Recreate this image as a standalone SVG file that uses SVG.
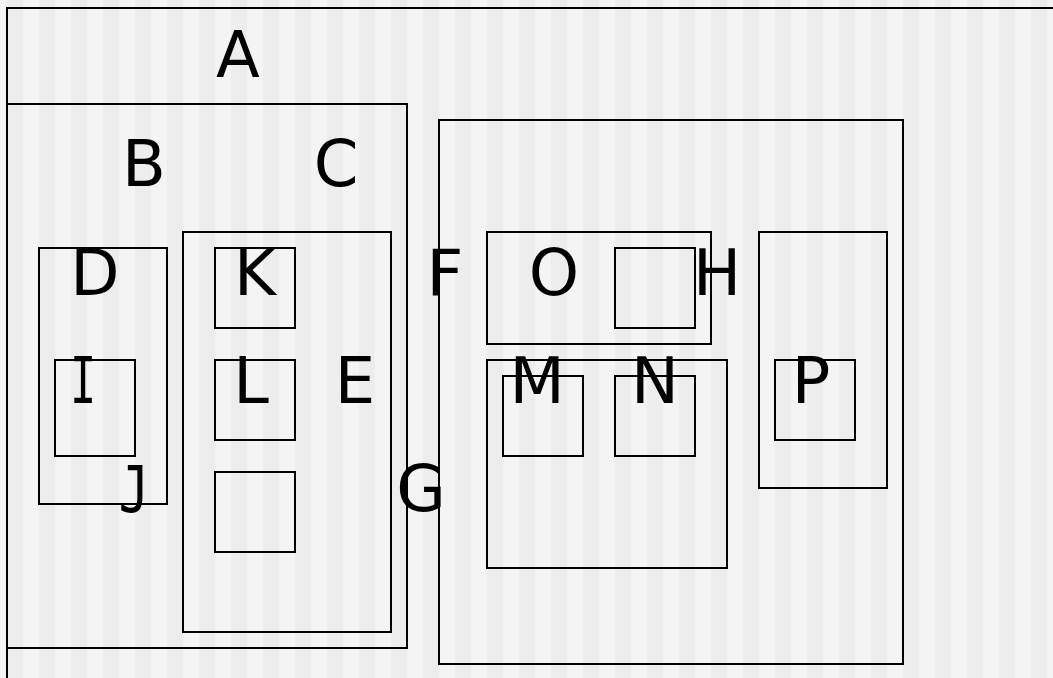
<svg xmlns="http://www.w3.org/2000/svg" width="1053" height="678" viewBox="0 0 1053 678">
<style>
.box{fill:none;stroke:#000;stroke-width:2}
.lbl{font-family:"DejaVu Sans",sans-serif;font-size:64px;fill:#000;text-anchor:middle}
.mono{font-family:"DejaVu Sans Mono",monospace}
</style>
<defs>
<pattern id="stripes" x="7" y="0" width="32" height="678" patternUnits="userSpaceOnUse">
<rect x="0" y="0" width="16" height="678" fill="#ededed"/>
<rect x="16" y="0" width="16" height="678" fill="#f4f4f4"/>
</pattern>
</defs>
<rect x="0" y="0" width="1053" height="678" fill="url(#stripes)"/>
<g id="A"><rect class="box" x="7" y="8" width="1060" height="690"/><text class="lbl" x="238" y="77">A</text></g>
<g id="B"><rect class="box" x="7" y="104" width="400" height="544"/><text class="lbl" x="144" y="186">B</text></g>
<g id="C"><rect class="box" x="183" y="232" width="208" height="400"/><text class="lbl" x="336" y="186">C</text></g>
<g id="D"><rect class="box" x="39" y="248" width="128" height="256"/><text class="lbl" x="95" y="295">D</text></g>
<g id="I"><rect class="box" x="55" y="360" width="80" height="96"/><text class="lbl mono" transform="translate(83,403) scale(0.68,1)">I</text></g>
<g id="J"><text class="lbl mono" transform="translate(134,512) scale(0.8,1)">J</text></g>
<g id="K"><rect class="box" x="215" y="248" width="80" height="80"/><text class="lbl" x="255" y="295">K</text></g>
<g id="L"><rect class="box" x="215" y="360" width="80" height="80"/><text class="lbl" x="251" y="403">L</text></g>
<g id="unlabeled1"><rect class="box" x="215" y="472" width="80" height="80"/></g>
<g id="E"><text class="lbl" x="355" y="403">E</text></g>
<g id="F"><text class="lbl" x="445" y="295">F</text></g>
<g id="G"><rect class="box" x="439" y="120" width="464" height="544"/><text class="lbl" x="421" y="511">G</text></g>
<g id="O"><rect class="box" x="487" y="232" width="224" height="112"/><text class="lbl" x="554" y="295">O</text></g>
<g id="unlabeled2"><rect class="box" x="615" y="248" width="80" height="80"/></g>
<g id="MN"><rect class="box" x="487" y="360" width="240" height="208"/></g>
<g id="M"><rect class="box" x="503" y="376" width="80" height="80"/><text class="lbl" x="537" y="403">M</text></g>
<g id="N"><rect class="box" x="615" y="376" width="80" height="80"/><text class="lbl" x="655" y="403">N</text></g>
<g id="H"><rect class="box" x="759" y="232" width="128" height="256"/><text class="lbl" x="717" y="295">H</text></g>
<g id="P"><rect class="box" x="775" y="360" width="80" height="80"/><text class="lbl" x="811" y="403">P</text></g>
<g id="connectors"/>
</svg>
